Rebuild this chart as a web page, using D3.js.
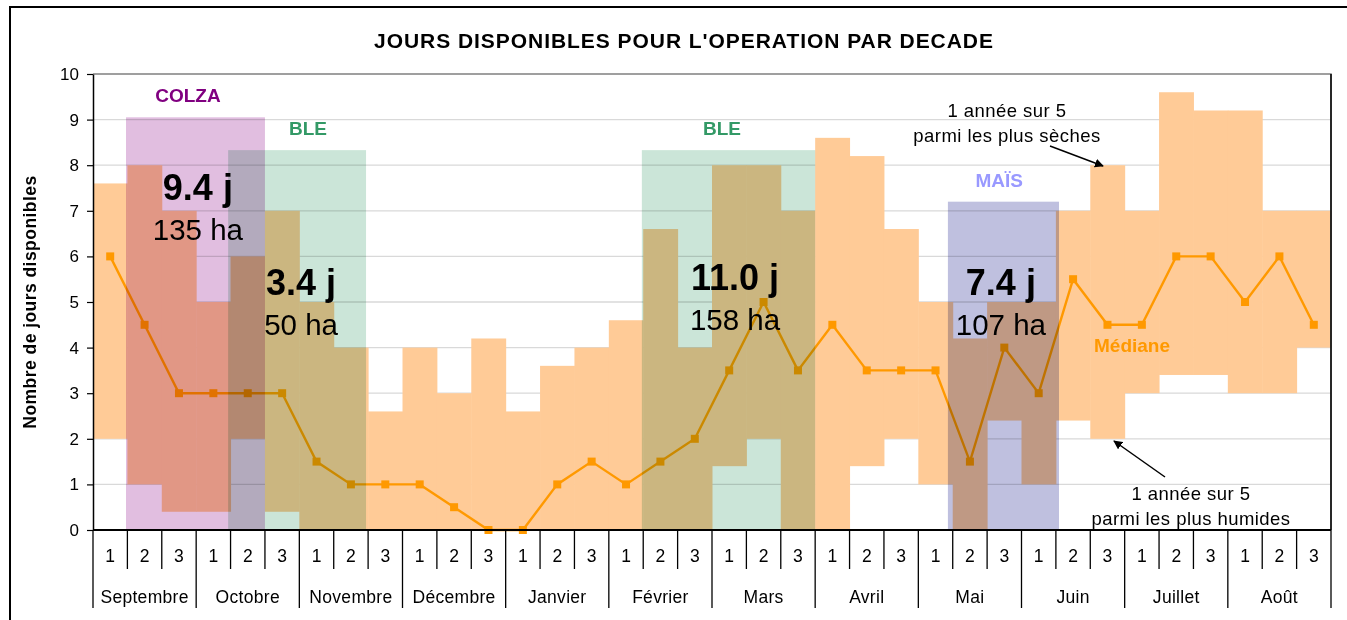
<!DOCTYPE html>
<html>
<head>
<meta charset="utf-8">
<script src="https://cdn.jsdelivr.net/npm/d3@7"></script>
<style>
  body { margin: 0; background: #fff; }
  svg { display: block; font-family: "Liberation Sans", Arial, sans-serif; }
  .blend { mix-blend-mode: multiply; }
</style>
</head>
<body>
<svg id="chart" width="1347" height="620"></svg>
<script>
// decades of each month, Sept -> Aug
const months = ["Septembre", "Octobre", "Novembre", "Décembre", "Janvier", "Février",
  "Mars", "Avril", "Mai", "Juin", "Juillet", "Août"];
const decadeLabels = ["1", "2", "3"];

// 1 year in 5 among the driest (top of band) and the wettest (bottom of band)
const dryYear = [7.6, 8.0, 7.0, 5.0, 6.0, 7.0, 5.0, 4.0, 2.6, 4.0, 3.0, 4.2,
  2.6, 3.6, 4.0, 4.6, 6.6, 4.0, 8.0, 8.0, 7.0, 8.6, 8.2, 6.6,
  5.0, 4.2, 5.0, 5.0, 7.0, 8.0, 7.0, 9.6, 9.2, 9.2, 7.0, 7.0];
const wetYear = [2.0, 1.0, 0.4, 0.4, 2.0, 0.4, 0, 0, 0, 0, 0, 0,
  0, 0, 0, 0, 0, 0, 1.4, 2.0, 0, 0, 1.4, 2.0,
  1.0, 0, 2.4, 1.0, 2.4, 2.0, 3.0, 3.4, 3.4, 3.0, 3.0, 4.0];
const median = [6, 4.5, 3, 3, 3, 3, 1.5, 1, 1, 1, 0.5, 0,
  0, 1, 1.5, 1, 1.5, 2, 3.5, 5, 3.5, 4.5, 3.5, 3.5,
  3.5, 1.5, 4, 3, 5.5, 4.5, 4.5, 6, 6, 5, 6, 4.5];

// operation windows (in decade units)
const crops = ["COLZA", "BLE", "BLE", "MAÏS"];
const cropStart = [0.96, 3.93, 15.96, 24.86];
const cropEnd = [5.0, 7.94, 21.0, 28.09];
const cropTop = [9.05, 8.33, 8.33, 7.2];
const cropDays = ["9.4 j", "3.4 j", "11.0 j", "7.4 j"];
const cropArea = ["135 ha", "50 ha", "158 ha", "107 ha"];
const cropFill = ["#E1BEE0", "#CBE5D8", "#CBE5D8", "#BFC0DF"];
const cropText = ["#800080", "#339966", "#339966", "#9999FF"];

const svg = d3.select("#chart");
const plotL = 93, plotR = 1331, plotT = 74, plotB = 530;
const nDec = months.length * 3;

const x = d3.scaleBand().domain(d3.range(nDec)).range([plotL, plotR]).paddingInner(0);
const xLin = d3.scaleLinear().domain([0, nDec]).range([plotL, plotR]);
const y = d3.scaleLinear().domain([0, 10]).range([plotB, plotT]);

svg.append("rect").attr("width", 1347).attr("height", 620).attr("fill", "#fff");

// outer frame
svg.append("rect")
  .attr("x", 10).attr("y", 7).attr("width", 1350).attr("height", 630)
  .attr("fill", "none").attr("stroke", "#000").attr("stroke-width", 2);

// title
svg.append("text")
  .attr("x", 684).attr("y", 48)
  .attr("text-anchor", "middle")
  .style("font-size", "21px").style("font-weight", "bold")
  .style("letter-spacing", "0.95px")
  .text("JOURS DISPONIBLES POUR L'OPERATION PAR DECADE");

// gridlines
svg.append("g").selectAll("line")
  .data(d3.range(1, 10))
  .join("line")
  .attr("x1", plotL).attr("x2", plotR)
  .attr("y1", d => y(d)).attr("y2", d => y(d))
  .attr("stroke", "#D9D9D9").attr("stroke-width", 1.3);

// band between wet and dry year
svg.append("g").selectAll("rect")
  .data(d3.range(nDec))
  .join("rect")
  .attr("x", i => x(i))
  .attr("width", x.bandwidth() + 0.5)
  .attr("y", i => y(dryYear[i]))
  .attr("height", i => y(wetYear[i]) - y(dryYear[i]))
  .attr("fill", "#FFCB97");

// median line
const line = d3.line()
  .x((d, i) => x(i) + x.bandwidth() / 2)
  .y(d => y(d));
svg.append("path")
  .datum(median)
  .attr("d", line)
  .attr("fill", "none")
  .attr("stroke", "#FF9900")
  .attr("stroke-width", 2.4);
svg.append("g").selectAll("rect")
  .data(median)
  .join("rect")
  .attr("x", (d, i) => x(i) + x.bandwidth() / 2 - 4)
  .attr("y", d => y(d) - 4)
  .attr("width", 8).attr("height", 8)
  .attr("fill", "#FF9900");

// crop windows, multiplied over the band
svg.append("g").selectAll("rect")
  .data(d3.range(crops.length))
  .join("rect")
  .attr("class", "blend")
  .attr("x", i => xLin(cropStart[i]))
  .attr("width", i => xLin(cropEnd[i]) - xLin(cropStart[i]))
  .attr("y", i => y(cropTop[i]))
  .attr("height", i => y(0) - y(cropTop[i]))
  .attr("fill", i => cropFill[i]);

// plot border
svg.append("path")
  .attr("d", `M${plotL},${plotT}H${plotR}V${plotB}`)
  .attr("fill", "none").attr("stroke", "#808080").attr("stroke-width", 1.5);
svg.append("line")
  .attr("x1", plotR).attr("x2", plotR).attr("y1", plotT).attr("y2", plotB)
  .attr("stroke", "#000").attr("stroke-width", 1.5);

// y axis
const yAxis = svg.append("g")
  .attr("transform", `translate(${plotL},0)`)
  .call(d3.axisLeft(y).ticks(10).tickSize(6).tickPadding(8).tickSizeOuter(0));
yAxis.select(".domain").attr("stroke", "#000").attr("stroke-width", 1.5);
yAxis.selectAll(".tick line").attr("stroke", "#000").attr("stroke-width", 1.2);
yAxis.selectAll("text")
  .style("font-size", "17px").attr("fill", "#000")
  .attr("font-family", "Liberation Sans, Arial, sans-serif");

svg.append("text")
  .attr("transform", "translate(36,302) rotate(-90)")
  .attr("text-anchor", "middle")
  .style("font-size", "17.5px").style("font-weight", "bold")
  .style("letter-spacing", "0.45px")
  .text("Nombre de jours disponibles");

// x axis: decades then months
svg.append("line")
  .attr("x1", plotL).attr("x2", plotR).attr("y1", plotB).attr("y2", plotB)
  .attr("stroke", "#000").attr("stroke-width", 2);

const ax = svg.append("g");
ax.selectAll("line.dec")
  .data(d3.range(nDec + 1))
  .join("line")
  .attr("class", "dec")
  .attr("x1", i => xLin(i)).attr("x2", i => xLin(i))
  .attr("y1", plotB).attr("y2", i => i % 3 === 0 ? 608 : 569)
  .attr("stroke", "#000").attr("stroke-width", 1.3);
ax.selectAll("text.dec")
  .data(d3.range(nDec))
  .join("text")
  .attr("class", "dec")
  .attr("x", i => x(i) + x.bandwidth() / 2)
  .attr("y", 562)
  .attr("text-anchor", "middle")
  .style("font-size", "17.5px")
  .text(i => decadeLabels[i % 3]);
ax.selectAll("text.month")
  .data(months)
  .join("text")
  .attr("class", "month")
  .attr("x", (d, i) => xLin(i * 3 + 1.5))
  .attr("y", 603)
  .attr("text-anchor", "middle")
  .style("font-size", "17.5px")
  .style("letter-spacing", "0.3px")
  .text(d => d);

// crop labels (positions in decade units / days)
const lab = svg.append("g");
const nameX = [2.76, 6.25, 18.29, 26.35];
const textX = [3.05, 6.05, 18.67, 26.4];
const dayAt = [7.24, 5.15, 5.26, 5.15];
crops.forEach((c, i) => {
  lab.append("text")
    .attr("x", xLin(nameX[i])).attr("y", y(cropTop[i]) - 15)
    .attr("text-anchor", "middle")
    .attr("fill", cropText[i])
    .style("font-size", "19px").style("font-weight", "bold")
    .text(c);
  lab.append("text")
    .attr("x", xLin(textX[i])).attr("y", y(dayAt[i]))
    .attr("text-anchor", "middle")
    .style("font-size", "36px").style("font-weight", "bold")
    .text(cropDays[i]);
  lab.append("text")
    .attr("x", xLin(textX[i])).attr("y", y(dayAt[i]) + 40)
    .attr("text-anchor", "middle")
    .style("font-size", "29.5px")
    .text(cropArea[i]);
});

lab.append("text")
  .attr("x", 1132).attr("y", 352)
  .attr("text-anchor", "middle")
  .attr("fill", "#FF9900")
  .style("font-size", "19px").style("font-weight", "bold")
  .text("Médiane");

// annotations with arrows
svg.append("defs").append("marker")
  .attr("id", "head")
  .attr("viewBox", "0 0 10 10")
  .attr("refX", 9).attr("refY", 5)
  .attr("markerWidth", 9).attr("markerHeight", 9)
  .attr("markerUnits", "userSpaceOnUse")
  .attr("orient", "auto")
  .append("path").attr("d", "M0,0L10,5L0,10z").attr("fill", "#000");

const notes = [
  { lines: ["1 année sur 5", "parmi les plus sèches"], x: 1007, y: 117, from: [1050, 146], to: [1103, 166] },
  { lines: ["1 année sur 5", "parmi les plus humides"], x: 1191, y: 500, from: [1165, 477], to: [1114, 441] }
];
notes.forEach(n => {
  n.lines.forEach((t, k) => {
    svg.append("text")
      .attr("x", n.x).attr("y", n.y + k * 25)
      .attr("text-anchor", "middle")
      .style("font-size", "18.5px")
      .style("letter-spacing", "0.45px")
      .text(t);
  });
  svg.append("line")
    .attr("x1", n.from[0]).attr("y1", n.from[1])
    .attr("x2", n.to[0]).attr("y2", n.to[1])
    .attr("stroke", "#000").attr("stroke-width", 1.5)
    .attr("marker-end", "url(#head)");
});
</script>
</body>
</html>
